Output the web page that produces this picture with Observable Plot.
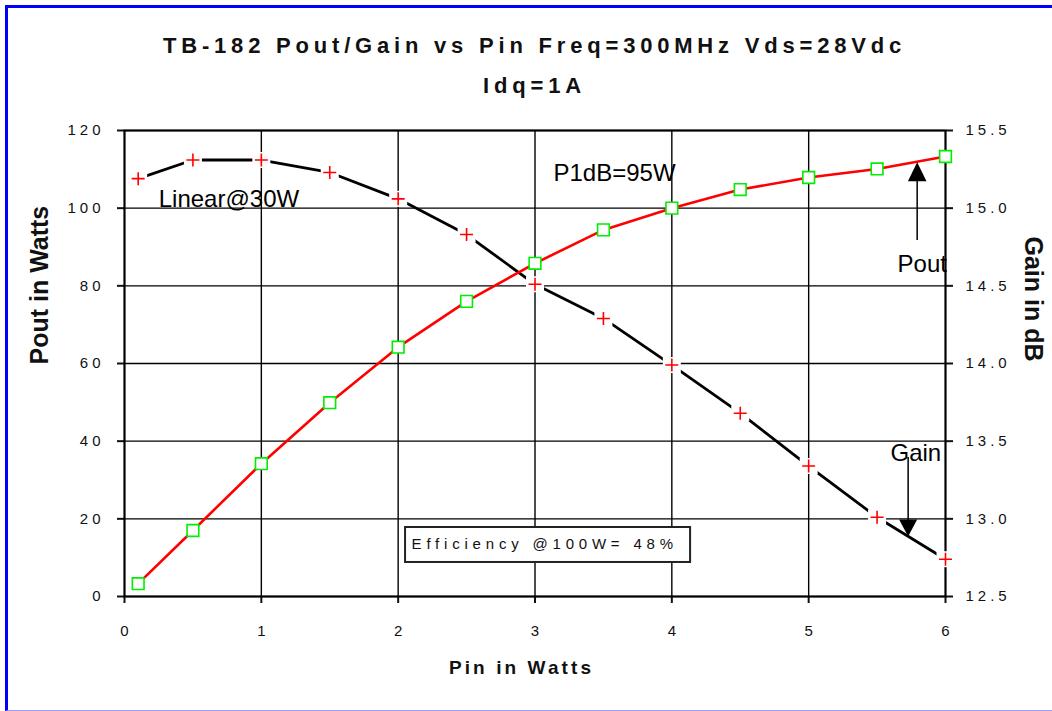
<!DOCTYPE html>
<html>
<head>
<meta charset="utf-8">
<script src="https://cdn.jsdelivr.net/npm/d3@7"></script>
<script src="https://cdn.jsdelivr.net/npm/@observablehq/plot@0.6"></script>
<style>
html, body { margin: 0; padding: 0; background: #fff; }
#wrap { position: relative; width: 1052px; height: 711px; overflow: hidden; background: #fff; }
#title { position: relative; height: 110px; }
.t { position: absolute; left: 0; width: 1052px; box-sizing: border-box; padding-left: 17px; text-align: center;
     font: bold 22px "Liberation Sans", Arial, sans-serif; letter-spacing: 4.8px; line-height: 30px; color: #111; white-space: nowrap; }
#border { position: absolute; left: 5px; top: 5px; right: 0; bottom: 0; border-top: 3px solid #0000ff; border-left: 3px solid #0000ff; border-bottom: 1px solid #9a9aff; pointer-events: none; }
#chart svg { display: block; }
g[aria-label="x-axis tick label"] text, g[aria-label="y-axis tick label"] text { letter-spacing: 4px; }
</style>
</head>
<body>
<div id="wrap">
  <div id="title">
    <div class="t" style="top:31px">TB-182 Pout/Gain vs Pin Freq=300MHz Vds=28Vdc</div>
    <div class="t" style="top:71px">Idq=1A</div>
  </div>
  <div id="chart"></div>
  <div id="border"></div>
</div>
<script>
// Data
const pin    = [0.1, 0.5, 1, 1.5, 2, 2.5, 3, 3.5, 4, 4.5, 5, 5.5, 6];
const pout   = [3.3, 17.0, 34.2, 49.9, 64.2, 76.0, 85.8, 94.4, 100.0, 104.8, 107.9, 110.1, 113.3];
const gainDb = [15.19, 15.31, 15.31, 15.23, 15.06, 14.83, 14.51, 14.29, 13.99, 13.68, 13.34, 13.01, 12.74];

const xTicks    = [0, 1, 2, 3, 4, 5, 6];
const poutTicks = [0, 20, 40, 60, 80, 100, 120];
const gainTicks = [12.5, 13.0, 13.5, 14.0, 14.5, 15.0, 15.5];

// Annotations (data coordinates)
const notes      = [
  {x: 0.25,  y: 100.2, text: "Linear@30W"},
  {x: 3.135, y: 107.1, text: "P1dB=95W"},
  {x: 5.65,  y: 83.5,  text: "Pout"},
  {x: 5.598, y: 35.0,  text: "Gain"}
];
const arrowLines = [
  {x: 5.793, y1: 91.7, y2: 108},
  {x: 5.727, y1: 35.8, y2: 19}
];
const upHeads   = [{x: 5.793, y: 111.85}];
const downHeads = [{x: 5.727, y: 15.45}];
const effBox  = [{x1: 2.054, x2: 4.137, y1: 8.76, y2: 17.77}];
const effText = [{x: 2.098, y: 12.36, text: "Efficiency @100W= 48%"}];

// Gain (dB, right axis) mapped onto the left axis range 0..120
const gToY = g => (g - 12.5) * 40;
const gainData = pin.map((x, i) => ({x, y: gToY(gainDb[i])}));
const poutData = pin.map((x, i) => ({x, y: pout[i]}));

const headUp = {draw(ctx) { ctx.moveTo(0, 0); ctx.lineTo(-9.3, 19); ctx.lineTo(9.3, 19); ctx.closePath(); }};
const headDown = {draw(ctx) { ctx.moveTo(0, 0); ctx.lineTo(-9, -17); ctx.lineTo(9, -17); ctx.closePath(); }};
const plusMark = {draw(ctx) { ctx.moveTo(-6.5, 0); ctx.lineTo(6.5, 0); ctx.moveTo(0, -6.5); ctx.lineTo(0, 6.5); }};
const halo = {draw(ctx) { ctx.rect(-9, -8, 18, 16); }};

const chart = Plot.plot({
  width: 1052,
  height: 601,
  marginTop: 20,
  marginBottom: 115,
  marginLeft: 124,
  marginRight: 107,
  style: {fontFamily: '"Liberation Sans", Arial, sans-serif', color: "#111", background: "transparent", overflow: "visible"},
  x: {domain: [0, 6]},
  y: {domain: [0, 120]},
  marks: [
    Plot.gridX(xTicks, {stroke: "#000", strokeOpacity: 1, strokeWidth: 1.4}),
    Plot.gridY(poutTicks, {stroke: "#000", strokeOpacity: 1, strokeWidth: 1.4}),
    Plot.axisX(xTicks, {tickSize: 7, tickPadding: 22, fontSize: 15, strokeWidth: 2, label: null, tickFormat: d => String(d)}),
    Plot.axisY(poutTicks, {anchor: "left", tickSize: 7, tickPadding: 13, fontSize: 15, strokeWidth: 2, label: null, tickFormat: d => String(d)}),
    Plot.axisY(gainTicks.map(gToY), {anchor: "right", tickSize: 7, tickPadding: 13, fontSize: 15, strokeWidth: 2, label: null,
      tickFormat: d => (12.5 + d / 40).toFixed(1)}),
    Plot.frame({stroke: "#000", strokeWidth: 2}),
    Plot.rect(effBox, {x1: "x1", x2: "x2", y1: "y1", y2: "y2", fill: "white", stroke: "#222", strokeWidth: 2}),
    Plot.text(effText, {x: "x", y: "y", text: "text", textAnchor: "start", lineAnchor: "bottom", fontSize: 15, fill: "#111"}),
    Plot.line(gainData, {x: "x", y: "y", stroke: "#000", strokeWidth: 2.8}),
    Plot.dot(gainData, {x: "x", y: "y", symbol: halo, fill: "white"}),
    Plot.line(poutData, {x: "x", y: "y", stroke: "#ff0000", strokeWidth: 2.6}),
    Plot.dot(poutData, {x: "x", y: "y", symbol: "square", r: 6.6, fill: "white", stroke: "#00ee00", strokeWidth: 1.6}),
    Plot.dot(gainData, {x: "x", y: "y", symbol: plusMark, stroke: "#ff0000", strokeWidth: 1.6}),
    Plot.text(notes, {x: "x", y: "y", text: "text", textAnchor: "start", lineAnchor: "bottom", fontSize: 24, fill: "#000"}),
    Plot.ruleX(arrowLines, {x: "x", y1: "y1", y2: "y2", stroke: "#000", strokeWidth: 1.5}),
    Plot.dot(upHeads, {x: "x", y: "y", symbol: headUp, fill: "#000"}),
    Plot.dot(downHeads, {x: "x", y: "y", symbol: headDown, fill: "#000"}),
    Plot.text(["Pout in Watts"], {frameAnchor: "left", text: d => d, rotate: -90, dx: -85, dy: 1, fontSize: 25, fontWeight: "bold", fill: "#111"}),
    Plot.text(["Gain in dB"], {frameAnchor: "right", text: d => d, rotate: 90, dx: 87, dy: -2, fontSize: 25, fontWeight: "bold", fill: "#111"}),
    Plot.text(["Pin in Watts"], {frameAnchor: "bottom", text: d => d, dx: -13.5, dy: 77, fontSize: 19, fontWeight: "bold", fill: "#111"})
  ]
});
d3.select(chart).selectAll("text").each(function () {
  const s = this.textContent;
  if (s.startsWith("Efficiency")) this.style.letterSpacing = "4.8px";
  else if (s === "Pin in Watts") this.style.letterSpacing = "3.1px";
});
d3.select(chart).selectAll('g[aria-label="x-axis tick label"]').each(function () {
  const t = this.getAttribute("transform") || "";
  this.setAttribute("transform", (t + " translate(2,0)").trim());
});
document.getElementById("chart").appendChild(chart);
</script>
</body>
</html>
